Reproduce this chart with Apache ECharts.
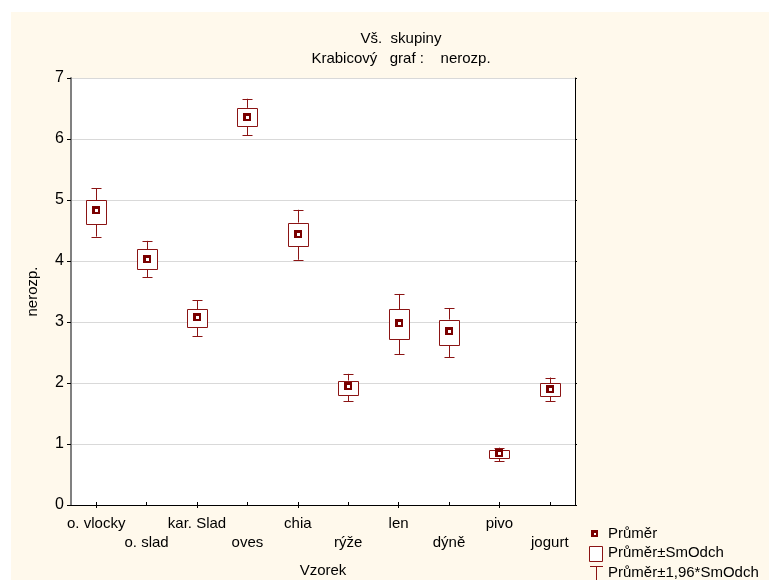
<!DOCTYPE html>
<html>
<head>
<meta charset="utf-8">
<script src="https://cdn.jsdelivr.net/npm/echarts@6/dist/echarts.min.js"></script>
<style>
html,body{margin:0;padding:0;background:#fff;}
#c{width:769px;height:580px;}
</style>
</head>
<body>
<div id="c"></div>
<script>
const categories = ['o. vlocky','o. slad','kar. Slad','oves','chia','rýže','len','dýně','pivo','jogurt'];
const means       = [4.83, 4.04, 3.08, 6.36, 4.44, 1.95, 2.99, 2.86, 0.85, 1.90];
const boxLow      = [4.60, 3.87, 2.91, 6.21, 4.25, 1.81, 2.72, 2.62, 0.77, 1.79];
const boxHigh     = [5.00, 4.19, 3.21, 6.51, 4.63, 2.04, 3.21, 3.04, 0.90, 2.00];
const whiskerLow  = [4.40, 3.73, 2.77, 6.06, 4.02, 1.70, 2.47, 2.42, 0.72, 1.70];
const whiskerHigh = [5.19, 4.33, 3.36, 6.66, 4.84, 2.15, 3.46, 3.23, 0.94, 2.09];
const yTicks = [0,1,2,3,4,5,6,7];

const FONT = '"Liberation Sans", Arial, sans-serif';
const RED = '#8B1414';
const DARK = '#7A0000';
const FS = 15;

const data = categories.map((c,i)=>[i, means[i], boxLow[i], boxHigh[i], whiskerLow[i], whiskerHigh[i]]);

const chart = echarts.init(document.getElementById('c'), null, {renderer:'canvas'});

function renderItem(params, api){
  const i = api.value(0);
  const pM = api.coord([i, api.value(1)]);
  const pBL = api.coord([i, api.value(2)]);
  const pBH = api.coord([i, api.value(3)]);
  const pWL = api.coord([i, api.value(4)]);
  const pWH = api.coord([i, api.value(5)]);
  const x = Math.round(pM[0]) + 0.5;
  const bw = 20, cw = 10;
  const ls = {stroke: RED, lineWidth: 1, fill: null};
  return {
    type:'group',
    children:[
      {type:'line', shape:{x1:x, y1:pBH[1], x2:x, y2:pWH[1]}, style:ls},
      {type:'line', shape:{x1:x, y1:pBL[1], x2:x, y2:pWL[1]}, style:ls},
      {type:'line', shape:{x1:x-cw/2, y1:Math.round(pWH[1])+0.5, x2:x+cw/2, y2:Math.round(pWH[1])+0.5}, style:ls},
      {type:'line', shape:{x1:x-cw/2, y1:Math.round(pWL[1])+0.5, x2:x+cw/2, y2:Math.round(pWL[1])+0.5}, style:ls},
      {type:'rect', shape:{x:x-bw/2, y:Math.round(pBH[1])+0.5, width:bw, height:Math.round(pBL[1])-Math.round(pBH[1])}, style:{stroke:RED, lineWidth:1, fill:'#fff'}},
      {type:'rect', shape:{x:Math.round(pM[0])-4, y:Math.round(pM[1])-4, width:8, height:8}, style:{fill:DARK}},
      {type:'rect', shape:{x:Math.round(pM[0])-1, y:Math.round(pM[1])-1, width:3, height:3}, style:{fill:'#fff'}}
    ]
  };
}

const option = {
  backgroundColor:'#ffffff',
  animation:false,
  textStyle:{fontFamily:FONT},
  title:{
    text:'Vš.  skupiny\nKrabicový   graf :    nerozp.',
    left:396, top:24, textAlign:'center',
    textStyle:{fontFamily:FONT, fontSize:FS, fontWeight:'normal', color:'#000', lineHeight:20}
  },
  graphic:[
    {type:'rect', z:-10, shape:{x:11, y:12, width:758, height:568}, style:{fill:'#FFF9EC'}},
    // legend
    {type:'rect', shape:{x:591, y:530, width:7, height:7}, style:{fill:DARK}},
    {type:'rect', shape:{x:594, y:533, width:2, height:2}, style:{fill:'#fff'}},
    {type:'text', x:608, y:534, style:{text:'Průměr', fontFamily:FONT, fontSize:FS, fill:'#000', verticalAlign:'middle'}},
    {type:'rect', shape:{x:589.5, y:546.5, width:13, height:15}, style:{stroke:RED, fill:'#fff', lineWidth:1}},
    {type:'text', x:608, y:553, style:{text:'Průměr±SmOdch', fontFamily:FONT, fontSize:FS, fill:'#000', verticalAlign:'middle'}},
    {type:'line', shape:{x1:590, y1:566.5, x2:603, y2:566.5}, style:{stroke:RED, lineWidth:1}},
    {type:'line', shape:{x1:596.5, y1:566, x2:596.5, y2:580}, style:{stroke:RED, lineWidth:1}},
    {type:'text', x:608, y:573, style:{text:'Průměr±1,96*SmOdch', fontFamily:FONT, fontSize:FS, fill:'#000', verticalAlign:'middle'}}
  ],
  grid:{left:71, top:78, right:194, bottom:75, show:true, backgroundColor:'#fff', borderWidth:0, outerBoundsMode:'none', containLabel:false},
  xAxis:[
    {
      type:'category', data:categories, position:'bottom', boundaryGap:true,
      name:'Vzorek', nameLocation:'middle', nameGap:58,
      nameTextStyle:{fontFamily:FONT, fontSize:FS, color:'#000'},
      axisLine:{lineStyle:{color:'#000', width:1}},
      axisTick:{show:true, inside:true, length:3, alignWithLabel:true, lineStyle:{color:'#000'}},
      axisLabel:{
        interval:0, margin:9, fontFamily:FONT, fontSize:FS, color:'#000', lineHeight:19,
        formatter:(v, idx)=> (idx % 2 === 1 ? '\n' + v : v)
      },
      splitLine:{show:false}
    },
    {
      type:'category', data:categories, position:'top', boundaryGap:true,
      axisLine:{lineStyle:{color:'#000', width:1}},
      axisTick:{show:true, inside:true, length:3, alignWithLabel:true, lineStyle:{color:'#000'}},
      axisLabel:{show:false}, splitLine:{show:false}
    }
  ],
  yAxis:[
    {
      type:'value', min:0, max:7, interval:1, position:'left',
      name:'nerozp.', nameLocation:'middle', nameGap:31,
      nameTextStyle:{fontFamily:FONT, fontSize:FS, color:'#000'},
      axisLine:{show:true, lineStyle:{color:'#808080', width:2}},
      axisTick:{show:true, length:4, lineStyle:{color:'#000'}},
      axisLabel:{margin:7, fontFamily:FONT, fontSize:16, color:'#000',
        formatter:(v)=> yTicks.includes(v) ? String(v) : ''},
      splitLine:{show:true, lineStyle:{color:'#D9D9D9', width:1}}
    },
    {
      type:'value', min:0, max:7, interval:1, position:'right',
      axisLine:{show:true, lineStyle:{color:'#000', width:1}},
      axisTick:{show:true, length:2, lineStyle:{color:'#000'}},
      axisLabel:{show:false}, splitLine:{show:false}
    }
  ],
  series:[{
    type:'custom',
    xAxisIndex:0, yAxisIndex:0,
    renderItem: renderItem,
    data: data,
    encode:{x:0, y:[1,2,3,4,5]},
    z:5
  }]
};
chart.setOption(option);
</script>
</body>
</html>
